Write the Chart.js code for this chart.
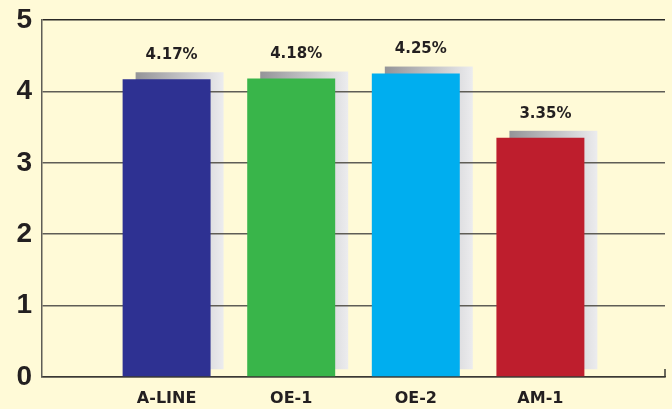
<!DOCTYPE html>
<html>
<head>
<meta charset="utf-8">
<script src="https://cdn.jsdelivr.net/npm/chart.js@4/dist/chart.umd.min.js"></script>
<style>
  html, body { margin: 0; padding: 0; background: #fffad7; }
  #wrap { width: 672px; height: 409px; }
</style>
</head>
<body>
<div id="wrap"><canvas id="c" width="672" height="409"></canvas></div>
<script>
// Categories and their rates (percent)
const categories = ['A-LINE', 'OE-1', 'OE-2', 'AM-1'];
const rates = [4.17, 4.18, 4.25, 3.35];
const barColors = ['#2e3192', '#39b54a', '#00aeef', '#be1e2d'];
const yTicks = [0, 1, 2, 3, 4, 5];

// Empty slots at both ends put the four bars on the inner slots of the axis
const axisLabels = ['', ...categories, ''];
const axisData = [null, ...rates, null];
const axisColors = ['transparent', ...barColors, 'transparent'];

const BG = '#fffad7';
const INK = '#231f20';

// Background, plus the grey gradient block set behind and to the right of each bar
const barShadow = {
  id: 'barShadow',
  beforeDraw(chart) {
    const ctx = chart.ctx;
    ctx.save();
    ctx.fillStyle = BG;
    ctx.fillRect(0, 0, chart.width, chart.height);
    const meta = chart.getDatasetMeta(0);
    const data = chart.data.datasets[0].data;
    meta.data.forEach((bar, i) => {
      if (data[i] == null) return;
      const p = bar.getProps(['x', 'y', 'base', 'width'], true);
      const left = p.x - p.width / 2 + 13;
      const right = p.x + p.width / 2 + 13;
      const top = p.y - 7;
      const bottom = p.base - 7;
      const g = ctx.createLinearGradient(left, 0, right, 0);
      g.addColorStop(0, '#949498');
      g.addColorStop(1, '#ececee');
      ctx.fillStyle = g;
      ctx.fillRect(left, top, right - left, bottom - top);
    });
    ctx.restore();
  }
};

// Percentage labels above the bars
const valueLabels = {
  id: 'valueLabels',
  afterDatasetsDraw(chart) {
    const ctx = chart.ctx;
    const meta = chart.getDatasetMeta(0);
    const data = chart.data.datasets[0].data;
    ctx.save();
    ctx.font = 'bold 15px "DejaVu Sans"';
    ctx.fillStyle = INK;
    ctx.textAlign = 'center';
    ctx.textBaseline = 'middle';
    meta.data.forEach((bar, i) => {
      if (data[i] == null) return;
      const p = bar.getProps(['x', 'y'], true);
      ctx.fillText(data[i].toFixed(2) + '%', p.x + 5, p.y - 24);
    });
    ctx.restore();
  },
  afterDraw(chart) {
    // short upward tick closing the right end of the baseline
    const { ctx, chartArea } = chart;
    ctx.save();
    ctx.strokeStyle = '#3a3833';
    ctx.lineWidth = 1.5;
    ctx.beginPath();
    ctx.moveTo(chartArea.right, chartArea.bottom - 8);
    ctx.lineTo(chartArea.right, chartArea.bottom);
    ctx.stroke();
    ctx.restore();
  }
};

new Chart(document.getElementById('c'), {
  type: 'bar',
  data: {
    labels: axisLabels,
    datasets: [{
      data: axisData,
      backgroundColor: axisColors,
      borderWidth: 0,
      categoryPercentage: 1,
      barPercentage: 0.706
    }]
  },
  options: {
    responsive: false,
    animation: false,
    layout: { padding: { top: 20, right: 7, left: 0, bottom: 0 } },
    plugins: {
      legend: { display: false },
      tooltip: { enabled: false }
    },
    scales: {
      x: {
        type: 'category',
        offset: false,
        grid: { display: false, drawTicks: false },
        border: { display: true, color: '#3a3833', width: 1.5 },
        ticks: {
          autoSkip: false,
          maxRotation: 0,
          padding: 12,
          color: INK,
          font: { family: '"DejaVu Sans"', weight: 'bold', size: 16 }
        },
        afterFit(scale) {
          scale.height = 32;
          scale.paddingLeft = 0;
          scale.paddingRight = 0;
        }
      },
      y: {
        min: yTicks[0],
        max: yTicks[yTicks.length - 1],
        afterBuildTicks(scale) { scale.ticks = yTicks.map(v => ({ value: v })); },
        grid: {
          drawTicks: false,
          lineWidth: 1.5,
          color: (c) => (c.tick && c.tick.value === 5) ? '#2a2826' : '#5f5d56'
        },
        border: { display: true, color: '#5f5d56', width: 1.5 },
        ticks: {
          padding: 10,
          color: INK,
          font: { family: '"Liberation Sans"', weight: 'bold', size: 28 }
        },
        afterFit(scale) {
          scale.width = 42;
          scale.paddingTop = 0;
          scale.paddingBottom = 0;
        }
      }
    }
  },
  plugins: [barShadow, valueLabels]
});
</script>
</body>
</html>
